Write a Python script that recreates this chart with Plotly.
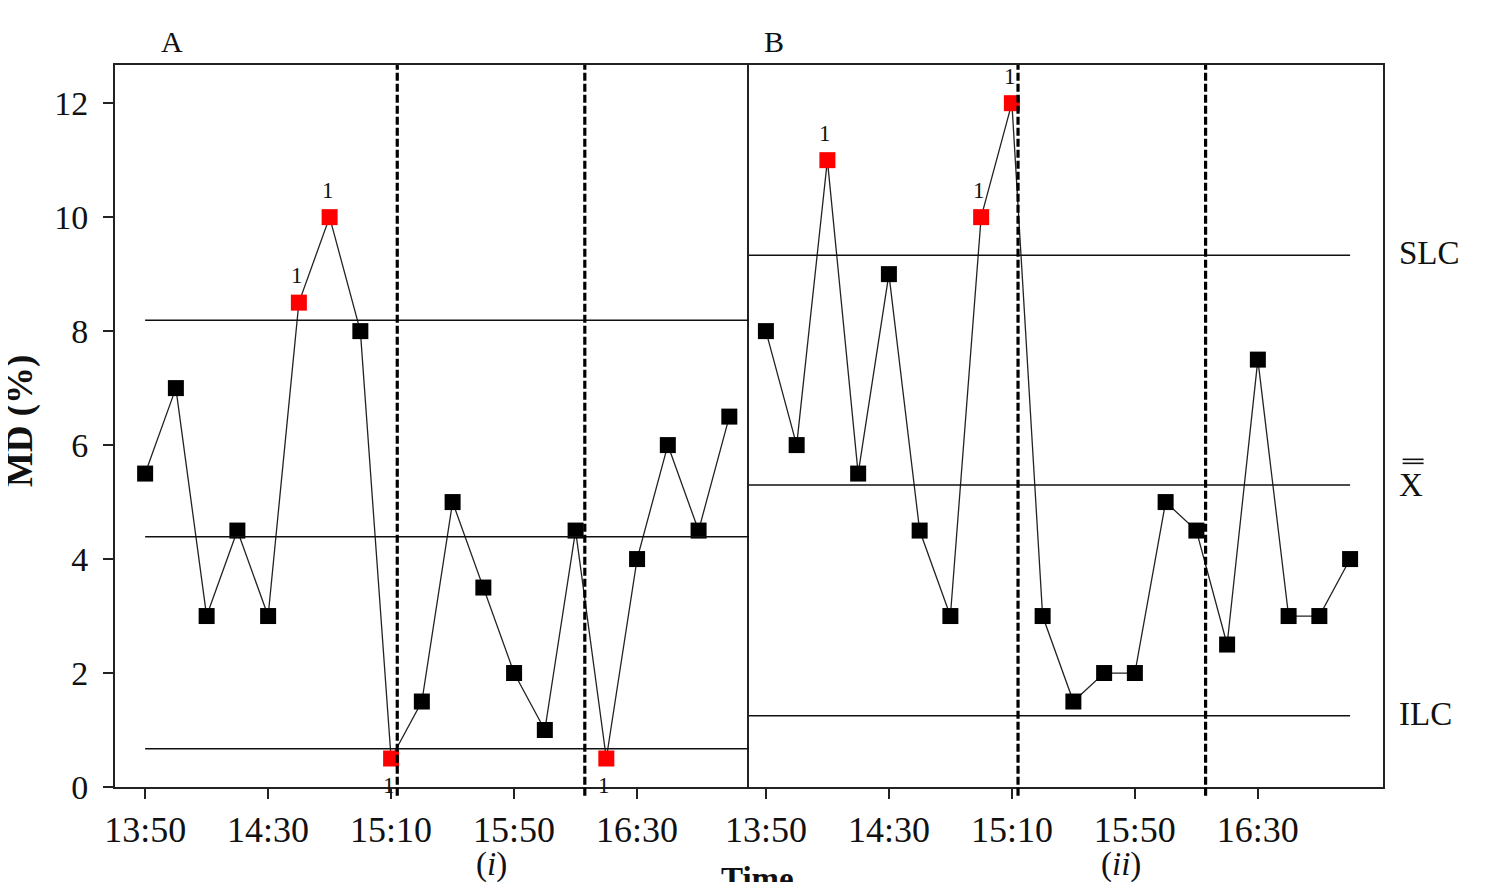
import plotly.graph_objects as go

# ---- data ----
times = ["13:50", "14:00", "14:10", "14:20", "14:30", "14:40", "14:50", "15:00", "15:10", "15:20",
         "15:30", "15:40", "15:50", "16:00", "16:10", "16:20", "16:30", "16:40", "16:50", "17:00"]
md_A = [5.5, 7, 3, 4.5, 3, 8.5, 10, 8, 0.5, 1.5, 5, 3.5, 2, 1, 4.5, 0.5, 4, 6, 4.5, 6.5]
md_B = [8, 6, 11, 5.5, 9, 4.5, 3, 10, 12, 3, 1.5, 2, 2, 5, 4.5, 2.5, 7.5, 3, 3, 4]
ucl = [8.19, 9.33]
center = [4.39, 5.30]
lcl = [0.67, 1.25]
phase_lines = [["15:12", "16:13"], ["15:12", "16:13"]]
tick_labels = ["13:50", "14:30", "15:10", "15:50", "16:30"]
y_ticks = [0, 2, 4, 6, 8, 10, 12]
panel_names = ["A", "B"]
sub_names = ["(<i>i</i>)", "(<i>ii</i>)"]
limit_names = ["SLC", "X", "ILC"]


def to_min(t):
    h, m = t.split(":")
    return int(h) * 60 + int(m)


x_min = [to_min(t) for t in times]
tick_vals = [to_min(t) for t in tick_labels]
x_ranges = [[820.2, 1026.4], [824.5, 1030.7]]

FONT = "Liberation Serif"
fig = go.Figure()
ann = []

series = [md_A, md_B]
for i, vals in enumerate(series):
    xa = "x" if i == 0 else "x2"
    ya = "y" if i == 0 else "y2"
    colors = ["#ff0000" if (v > ucl[i] or v < lcl[i]) else "#000000" for v in vals]
    fig.add_trace(go.Scatter(x=x_min, y=vals, mode="lines+markers", xaxis=xa, yaxis=ya,
                             line=dict(color="#222222", width=1.3),
                             marker=dict(symbol="square", size=16, color=colors),
                             showlegend=False, hoverinfo="skip"))
    for x, v in zip(x_min, vals):
        if v > ucl[i] or v < lcl[i]:
            ann.append(dict(text="1", x=x, y=v, xref=xa, yref=ya, showarrow=False,
                            yshift=27 if v > ucl[i] else -27, xshift=-2,
                            font=dict(family=FONT, size=23, color="#111")))

    # control lines
    x0 = x_min[0] if i == 0 else x_ranges[1][0]
    x1 = x_ranges[0][1] if i == 0 else x_min[-1]
    for lv in (ucl[i], center[i], lcl[i]):
        fig.add_shape(type="line", xref=xa, yref=ya, x0=x0, x1=x1, y0=lv, y1=lv,
                      line=dict(color="#111", width=1.5))
    # phase dashed lines
    for p in phase_lines[i]:
        px = to_min(p)
        fig.add_shape(type="line", xref=xa, yref="paper", x0=px, x1=px, y0=-0.012, y1=1,
                      line=dict(color="#000", width=3.2, dash="8px,3px"))

axis_common = dict(showline=True, linecolor="#222", linewidth=2,
                   showgrid=False, zeroline=False, ticks="outside", ticklen=10,
                   tickwidth=1.5, tickcolor="#222")

fig.update_layout(
    width=1504, height=882,
    margin=dict(l=107, r=129, t=57, b=103),
    plot_bgcolor="white", paper_bgcolor="white",
    xaxis=dict(domain=[0, 0.5], range=x_ranges[0], tickvals=tick_vals, ticktext=tick_labels,
               mirror=True, tickfont=dict(family=FONT, size=36, color="#111"), **axis_common),
    xaxis2=dict(domain=[0.5, 1], range=x_ranges[1], tickvals=tick_vals, ticktext=tick_labels,
                mirror=True, tickfont=dict(family=FONT, size=36, color="#111"), **axis_common),
    yaxis=dict(range=[0, 12.67], tickvals=y_ticks, anchor="x", mirror=False,
               ticklabelstandoff=8,
               tickfont=dict(family=FONT, size=34, color="#111"), **axis_common),
    yaxis2=dict(range=[0, 12.67], anchor="x2", matches="y", showline=True, linecolor="#222",
                linewidth=2, mirror=True, showgrid=False, zeroline=False,
                showticklabels=False, ticks=""),
)

ann.append(dict(text=panel_names[0], x=0.045, y=1.032, xref="paper", yref="paper",
                xanchor="center", yanchor="middle",
                showarrow=False, font=dict(family=FONT, size=30, color="#111")))
ann.append(dict(text=panel_names[1], x=0.520, y=1.032, xref="paper", yref="paper",
                xanchor="center", yanchor="middle",
                showarrow=False, font=dict(family=FONT, size=30, color="#111")))
ann.append(dict(text=sub_names[0], x=0.297, y=-0.108, xref="paper", yref="paper",
                xanchor="center", yanchor="middle",
                showarrow=False, font=dict(family=FONT, size=33, color="#111")))
ann.append(dict(text=sub_names[1], x=0.793, y=-0.108, xref="paper", yref="paper",
                xanchor="center", yanchor="middle",
                showarrow=False, font=dict(family=FONT, size=33, color="#111")))
ann.append(dict(text="<b>Time</b>", x=0.507, y=-0.128, xref="paper", yref="paper",
                xanchor="center", yanchor="middle",
                showarrow=False, font=dict(family=FONT, size=33, color="#111")))
ann.append(dict(text="<b>MD (%)</b>", x=-0.075, y=0.508, xref="paper", yref="paper",
                xanchor="center", yanchor="middle",
                textangle=-90, showarrow=False, font=dict(family=FONT, size=37, color="#111")))
for name, lv in zip(limit_names, (ucl[1], center[1], lcl[1])):
    ann.append(dict(text=name, x=1.011, y=lv, xref="paper", yref="y", xanchor="left",
                    yanchor="middle", yshift=2 if name != "X" else 0,
                    showarrow=False, font=dict(family=FONT, size=33, color="#111")))
# double bar over the X label
for dy in (0.38, 0.45):
    fig.add_shape(type="line", xref="paper", yref="y", x0=1.0155, x1=1.032,
                  y0=center[1] + dy, y1=center[1] + dy, line=dict(color="#111", width=1.6))
fig.update_layout(annotations=ann)

fig.write_html("out.html")
